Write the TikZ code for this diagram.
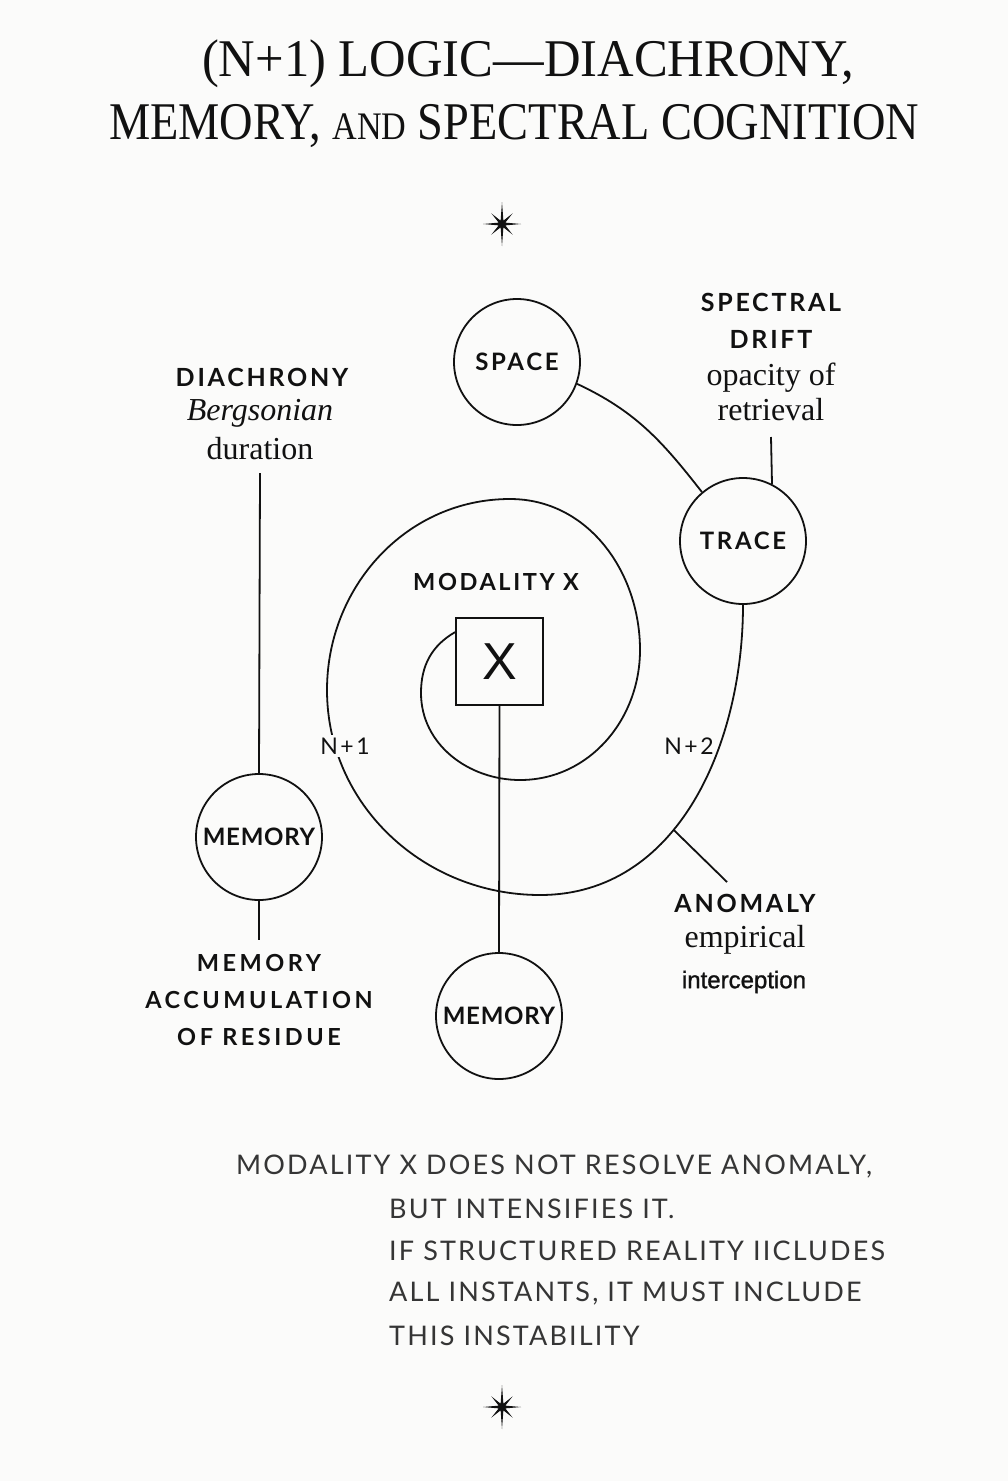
\documentclass[tikz,border=0pt]{standalone}
\usepackage{fontspec}
\usepackage{graphicx}
\usetikzlibrary{calc}
\newfontfamily\labfont[LetterSpace=11]{Lato}
\newfontfamily\accfont[LetterSpace=15]{Lato}
\newfontfamily\memfont[LetterSpace=3]{Lato}
\newfontfamily\bodyfont[LetterSpace=8]{Lato}
\newfontfamily\arialfont{Liberation Sans}
\newfontfamily\intfont[FakeBold=1.2]{Liberation Sans}
\newfontfamily\titlefont{Liberation Serif}
\newfontfamily\notefont{Liberation Serif}
\definecolor{ink}{RGB}{17,17,17}
\definecolor{paper}{RGB}{251,251,250}
\tikzset{
  line/.style={draw=ink, line width=1.8pt},
  circnode/.style={circle, draw=ink, line width=1.8pt, minimum size=126pt, inner sep=0pt, text=ink},
  boldcaps/.style={font=\labfont\bfseries\fontsize{25}{25}\selectfont, text=ink, inner sep=1pt},
  medcaps/.style={font=\accfont\bfseries\fontsize{23.5}{23.5}\selectfont, text=ink, inner sep=1pt},
  serifnote/.style={font=\notefont\fontsize{32}{32}\selectfont, text=ink, inner sep=1pt},
  bodyline/.style={font=\bodyfont\fontsize{27}{27}\selectfont, text=ink!85, anchor=west, inner sep=0pt},
  titleline/.style={font=\titlefont\fontsize{53}{53}\selectfont, text=ink, inner sep=0pt},
  sparkle/.pic={\fill[ink] (90:22) -- (67.5:3.6) -- (45:15) -- (22.5:3.6) -- (0:19) -- (-22.5:3.6) -- (-45:15) -- (-67.5:3.6) -- (-90:22) -- (-112.5:3.6) -- (-135:15) -- (-157.5:3.6) -- (180:19) -- (157.5:3.6) -- (135:15) -- (112.5:3.6) -- cycle;}
}
\begin{document}
\begin{tikzpicture}[x=1pt,y=1pt]
\useasboundingbox (0,0) rectangle (1008,-1481);
\fill[paper] (0,0) rectangle (1008,-1481);

% title
\node[titleline] (t1) at (528,-64) {\scalebox{0.955}[1]{(N+1) LOGIC—DIACHRONY,}};
\node[titleline] (t2) at (514,-126) {\scalebox{0.875}[1]{MEMORY, {\fontsize{39}{39}\selectfont AND} SPECTRAL COGNITION}};

\pic at (502,-224) {sparkle};

% circles and box
\node[circnode, font=\labfont\bfseries\fontsize{24}{24}\selectfont] (SPACE) at (517,-362) {SPACE};
\node[circnode, font=\labfont\bfseries\fontsize{24}{24}\selectfont] (TRACE) at (743,-541) {TRACE};
\node[circnode, font=\memfont\bfseries\fontsize{24}{24}\selectfont] (MEM1) at (259,-837) {MEMORY};
\node[circnode, font=\memfont\bfseries\fontsize{24}{24}\selectfont] (MEM2) at (499,-1016) {MEMORY};
\node[draw=ink, line width=1.8pt, minimum size=87pt, inner sep=0pt, font=\arialfont\fontsize{52}{52}\selectfont, text=ink] (X) at (499.5,-661.5) {X};

% spiral
\draw[line] ($(X.north west)+(0,-15)$) to[out=210,in=90] (421,-693)
  to[out=-90,in=180] (520,-780)
  to[out=0,in=-90] (640,-650)
  to[out=90,in=0] (510,-499)
  to[out=180,in=90] (327,-690)
  to[out=-90,in=180] (540,-895)
  to[out=0,in=-90] node[coordinate, pos=0.41] (ano) {} (TRACE.south);

\draw[line] (SPACE.-20) to[out=-25,in=128] (TRACE.130);

% spiral labels
\node[font=\labfont\bfseries\fontsize{23.5}{23.5}\selectfont, text=ink, inner sep=1pt] (modx) at (496,-582) {MODALITY X};
\node[font=\labfont\fontsize{23}{23}\selectfont, fill=paper, inner sep=3pt, text=ink] (n1) at (345,-746) {N+1};
\node[font=\labfont\fontsize{23}{23}\selectfont, inner sep=1pt, text=ink] (n2) at (689,-746) {N+2};

% X to lower memory
\draw[line] (X.south) -- (MEM2.north);

% diachrony
\node[boldcaps] (dia1) at (262,-377) {DIACHRONY};
\node[serifnote] (dia2) at (260,-413) {\itshape Bergsonian};
\node[serifnote] (dia3) at (260,-449) {duration};
\coordinate (diatop) at (260,-473);
\draw[line] (diatop) -- (MEM1.north);

% memory accumulation
\coordinate (accend) at (259,-940);
\draw[line] (MEM1.south) -- (accend);
\node[medcaps] (acc1) at (259,-963) {MEMORY};
\node[medcaps] (acc2) at (259,-1000) {ACCUMULATION};
\node[medcaps] (acc3) at (259,-1037) {OF RESIDUE};

% spectral drift
\node[boldcaps] (sd1) at (771,-302) {SPECTRAL};
\node[boldcaps] (sd2) at (771,-339) {DRIFT};
\node[serifnote] (sd3) at (771,-378) {opacity of};
\node[serifnote] (sd4) at (771,-410) {retrieval};
\coordinate (sdtop) at (771,-437);
\draw[line] (sdtop) -- (TRACE.63.6);

% anomaly
\coordinate (anoend) at (727,-882);
\draw[line] (ano) -- (anoend);
\node[boldcaps] (an1) at (745,-903) {ANOMALY};
\node[serifnote] (an2) at (745,-940) {empirical};
\node[font=\intfont\fontsize{24}{24}\selectfont, text=ink, inner sep=1pt] (an3) at (744,-982) {interception};

% bottom statement
\node[bodyline] (b1) at (236,-1167) {MODALITY X DOES NOT RESOLVE ANOMALY,};
\node[bodyline] (b2) at (389,-1209) {BUT INTENSIFIES IT.};
\node[bodyline] (b3) at (389,-1251) {IF STRUCTURED REALITY IICLUDES};
\node[bodyline] (b4) at (389,-1294) {ALL INSTANTS, IT MUST INCLUDE};
\node[bodyline] (b5) at (389,-1336) {THIS INSTABILITY};

\pic at (502,-1407) {sparkle};
\end{tikzpicture}
\end{document}
